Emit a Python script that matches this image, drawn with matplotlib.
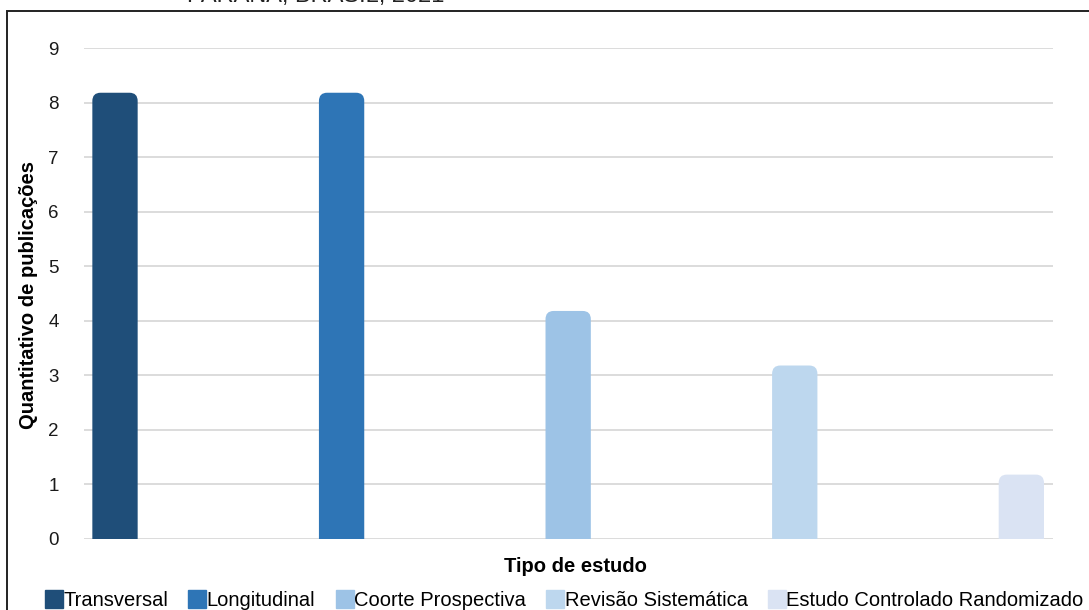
import matplotlib as mpl
mpl.use('Agg')
import matplotlib.pyplot as plt
from matplotlib.patches import FancyBboxPatch, Rectangle
from matplotlib.lines import Line2D

plt.rcParams['font.family'] = ['Liberation Sans', 'DejaVu Sans']

# publications per study type
categories = ["Transversal", "Longitudinal", "Coorte Prospectiva",
              "Revisão Sistemática", "Estudo Controlado Randomizado"]
counts = [8, 8, 4, 3, 1]
colors = ["#1f4e79", "#2e75b6", "#9dc3e6", "#bdd7ee", "#dae3f3"]
yticks = list(range(0, 10))

fig = plt.figure(figsize=(10.89, 6.10), dpi=100)
ax = fig.add_axes([0.0771, 0.1164, 0.8899, 0.8049])

bar_w = 0.2
cap = 0.18  # rounded cap drawn above the value
for i, (n, c) in enumerate(zip(counts, colors)):
    p = FancyBboxPatch((i - bar_w / 2, -0.5), bar_w, n + 0.5 + cap,
                       boxstyle="round,pad=0,rounding_size=0.036",
                       mutation_aspect=4.2, fc=c, ec='none', zorder=3)
    ax.add_patch(p)

ax.set_xlim(-0.137, 4.14)
ax.set_ylim(0, 9)
ax.set_yticks(yticks)
ax.set_xticks([])
ax.tick_params(axis='y', length=0, labelsize=13.5, pad=18, colors='#1a1a1a')
ax.grid(axis='y', color='#d9d9d9', lw=1.3, zorder=0)
for s in ax.spines.values():
    s.set_visible(False)

fig.text(0.026, 0.516, "Quantitativo de publicações", rotation=90,
         ha='center', va='center', fontsize=14.5, fontweight='bold')
fig.text(0.528, 0.072, "Tipo de estudo", ha='center', va='center',
         fontsize=14.5, fontweight='bold')
fig.text(0.29, 0.996, "PARANÁ, BRASIL, 2021", ha='center', va='baseline',
         fontsize=17, color='#222222')

# outer frame
fig.patches.append(Rectangle((0.0064, -0.02), 1.1, 1.002,
                             transform=fig.transFigure, fill=False,
                             ec='#222222', lw=1.4))

handles = [Line2D([], [], marker='s', ls='none', ms=13, mfc=c, mec=c)
           for c in colors]
fig.legend(handles, categories, loc='center', bbox_to_anchor=(0.519, 0.016),
           ncol=5, frameon=False, fontsize=14.5, handlelength=0.7,
           handletextpad=0.12, columnspacing=1.1, borderpad=0)

fig.savefig("out.png", dpi=100)
